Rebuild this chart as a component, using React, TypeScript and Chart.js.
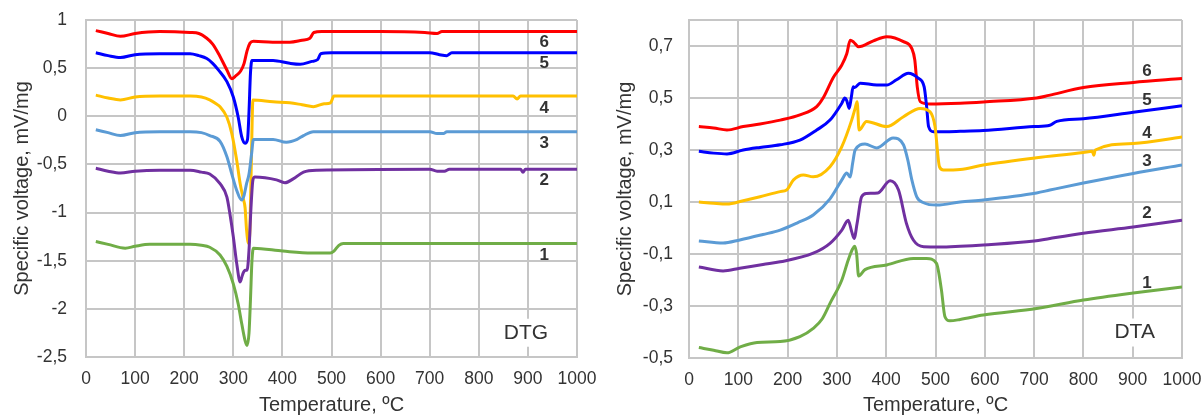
import React, { useEffect, useRef } from 'react';
import { Chart, registerables } from 'chart.js';
Chart.register(...registerables);

type Pt = [number, number];

// ---------- DTG series (temperature °C, mV/mg) ----------
const dtg1: Pt[] = [[20,-1.30],[45,-1.33],[80,-1.37],[100,-1.35],[130,-1.33],[212,-1.33],[235,-1.34],[252,-1.36],[273,-1.44],[287,-1.56],[300,-1.74],[310,-1.95],[317,-2.15],[324,-2.33],[328,-2.38],[332,-2.25],[335,-1.9],[338,-1.5],[341,-1.37],[401,-1.40],[460,-1.42],[497,-1.42],[505,-1.40],[515,-1.34],[524,-1.32],[1000,-1.32]];
const dtg2: Pt[] = [[20,-0.54],[45,-0.57],[70,-0.59],[100,-0.57],[150,-0.56],[212,-0.56],[235,-0.58],[252,-0.60],[273,-0.70],[287,-0.84],[293,-1.01],[300,-1.25],[307,-1.53],[314,-1.72],[318,-1.66],[320,-1.63],[324,-1.60],[328,-1.60],[332,-1.39],[336,-0.95],[340,-0.66],[344,-0.63],[388,-0.66],[405,-0.69],[422,-0.65],[443,-0.58],[470,-0.56],[700,-0.55],[715,-0.57],[730,-0.57],[740,-0.55],[885,-0.55],[890,-0.58],[895,-0.55],[1000,-0.55]];
const dtg3: Pt[] = [[20,-0.14],[45,-0.17],[70,-0.20],[100,-0.17],[150,-0.16],[212,-0.16],[235,-0.17],[252,-0.20],[273,-0.26],[287,-0.42],[297,-0.60],[307,-0.77],[317,-0.87],[322,-0.82],[327,-0.70],[332,-0.60],[337,-0.40],[341,-0.24],[381,-0.24],[408,-0.27],[430,-0.24],[443,-0.20],[463,-0.16],[700,-0.16],[715,-0.18],[728,-0.18],[735,-0.16],[1000,-0.16]];
const dtg4: Pt[] = [[20,0.22],[45,0.19],[70,0.17],[100,0.20],[150,0.21],[212,0.21],[235,0.20],[252,0.17],[265,0.13],[273,0.10],[287,-0.01],[297,-0.18],[307,-0.46],[314,-0.70],[320,-0.85],[324,-0.95],[327,-1.18],[331,-1.32],[334,-1.15],[337,-0.4],[340,0.17],[381,0.15],[415,0.14],[440,0.12],[463,0.10],[485,0.13],[498,0.14],[505,0.21],[520,0.21],[870,0.21],[878,0.18],[885,0.21],[1000,0.21]];
const dtg5: Pt[] = [[20,0.66],[45,0.63],[70,0.61],[100,0.64],[150,0.65],[212,0.65],[230,0.63],[246,0.60],[258,0.55],[270,0.48],[287,0.36],[300,0.20],[310,-0.01],[317,-0.21],[324,-0.28],[329,-0.24],[332,0.05],[335,0.45],[338,0.58],[381,0.58],[415,0.55],[436,0.54],[460,0.57],[472,0.59],[478,0.65],[500,0.66],[700,0.66],[720,0.64],[735,0.63],[745,0.66],[1000,0.66]];
const dtg6: Pt[] = [[20,0.89],[45,0.86],[70,0.83],[100,0.86],[150,0.88],[212,0.87],[230,0.86],[246,0.81],[258,0.75],[270,0.65],[287,0.48],[297,0.39],[305,0.42],[315,0.47],[322,0.55],[328,0.68],[334,0.76],[341,0.78],[380,0.77],[415,0.77],[440,0.79],[456,0.81],[464,0.87],[480,0.88],[600,0.88],[690,0.87],[715,0.86],[725,0.88],[1000,0.88]];

// ---------- DTA series ----------
const dta1: Pt[] = [[20,-0.46],[50,-0.47],[77,-0.48],[103,-0.458],[138,-0.44],[185,-0.437],[225,-0.418],[252,-0.386],[270,-0.35],[286,-0.29],[310,-0.20],[323,-0.123],[332,-0.08],[336,-0.07],[340,-0.10],[344,-0.185],[357,-0.16],[401,-0.142],[455,-0.117],[482,-0.117],[502,-0.136],[512,-0.238],[519,-0.34],[529,-0.357],[550,-0.352],[597,-0.335],[705,-0.31],[800,-0.277],[901,-0.25],[1000,-0.227]];
const dta2: Pt[] = [[20,-0.15],[69,-0.165],[103,-0.155],[150,-0.14],[185,-0.13],[252,-0.097],[286,-0.059],[310,-0.008],[323,0.03],[330,-0.014],[335,-0.04],[341,0.018],[350,0.12],[360,0.133],[383,0.135],[408,0.182],[425,0.146],[441,0.018],[455,-0.046],[476,-0.072],[509,-0.073],[550,-0.07],[597,-0.065],[700,-0.05],[732,-0.04],[800,-0.02],[901,0.004],[1000,0.03]];
const dta3: Pt[] = [[20,-0.05],[69,-0.058],[103,-0.046],[150,-0.025],[185,-0.008],[220,0.02],[252,0.05],[286,0.112],[310,0.185],[320,0.212],[327,0.196],[332,0.25],[337,0.30],[357,0.323],[381,0.308],[414,0.346],[435,0.32],[444,0.26],[452,0.185],[462,0.12],[476,0.097],[503,0.088],[550,0.10],[597,0.108],[705,0.135],[732,0.146],[800,0.173],[901,0.21],[1000,0.242]];
const dta4: Pt[] = [[20,0.10],[50,0.095],[77,0.092],[110,0.105],[144,0.12],[185,0.14],[198,0.146],[212,0.185],[232,0.204],[252,0.197],[286,0.236],[310,0.313],[330,0.415],[337,0.46],[341,0.486],[345,0.377],[360,0.41],[401,0.39],[435,0.428],[469,0.46],[489,0.447],[499,0.39],[508,0.236],[516,0.223],[550,0.225],[597,0.242],[705,0.27],[800,0.29],[818,0.295],[821,0.28],[824,0.30],[901,0.325],[1000,0.35]];
const dta5: Pt[] = [[20,0.295],[50,0.288],[77,0.285],[110,0.30],[144,0.31],[185,0.32],[225,0.338],[259,0.377],[286,0.415],[310,0.48],[316,0.50],[320,0.49],[325,0.46],[329,0.50],[333,0.543],[336,0.54],[347,0.557],[381,0.55],[401,0.55],[421,0.57],[445,0.595],[465,0.576],[477,0.543],[482,0.467],[486,0.39],[496,0.37],[550,0.372],[597,0.375],[700,0.39],[732,0.395],[746,0.41],[800,0.42],[901,0.445],[1000,0.47]];
const dta6: Pt[] = [[20,0.39],[50,0.385],[77,0.377],[110,0.39],[144,0.40],[185,0.415],[225,0.435],[259,0.467],[272,0.50],[293,0.58],[310,0.627],[320,0.67],[327,0.722],[334,0.715],[344,0.697],[374,0.72],[401,0.736],[435,0.717],[452,0.69],[458,0.646],[463,0.543],[469,0.486],[489,0.477],[550,0.48],[597,0.485],[705,0.50],[730,0.51],[800,0.54],[901,0.56],[1000,0.575]];

const seriesNames = ['1', '2', '3', '4', '5', '6'];
const seriesColors = ['#70AD47', '#7030A0', '#5B9BD5', '#FFC000', '#0000FF', '#FF0000'];
const xTicks = [0, 100, 200, 300, 400, 500, 600, 700, 800, 900, 1000];
const dtgYTicks = [-2.5, -2, -1.5, -1, -0.5, 0, 0.5, 1];
const dtaYTicks = [-0.5, -0.3, -0.1, 0.1, 0.3, 0.5, 0.7, 0.8];
const dtaUnlabeled = [0.8];
const dtgLabelPos: Pt[] = [[933, -1.443], [933, -0.665], [933, -0.28], [933, 0.083], [933, 0.546], [933, 0.77]];
const dtaLabelPos: Pt[] = [[929, -0.213], [929, 0.056], [929, 0.255], [929, 0.364], [929, 0.492], [929, 0.601]];
const dtgTag: Pt = [896, -2.248];
const dtaTag: Pt = [904, -0.402];

const FONT = "'Liberation Sans', Arial, sans-serif";
const GRID = '#c6c6c6';
const TEXT = '#333333';

const fmt = (v: number) => String(Math.round(v * 10) / 10).replace('.', ',');

interface PanelProps {
  series: Pt[][];
  yTicks: number[];
  hidden: number[];
  labelPos: Pt[];
  tag: string;
  tagPos: Pt;
  yWidth: number;
  yPad: number;
  yTitlePad: number;
  padRight: number;
  xHeight: number;
}

function Panel(p: PanelProps) {
  const ref = useRef<HTMLCanvasElement>(null);
  useEffect(() => {
    const canvas = ref.current!;
    const labelPlugin = {
      id: 'seriesLabels',
      afterDatasetsDraw(chart: any) {
        const ctx = chart.ctx;
        const xs = chart.scales.x;
        const ys = chart.scales.y;
        ctx.save();
        ctx.textAlign = 'center';
        ctx.textBaseline = 'middle';
        ctx.font = `bold 17px ${FONT}`;
        ctx.fillStyle = TEXT;
        p.labelPos.forEach((pt, i) => {
          ctx.fillText(seriesNames[i], xs.getPixelForValue(pt[0]), ys.getPixelForValue(pt[1]));
        });
        ctx.font = `21px ${FONT}`;
        const tx = xs.getPixelForValue(p.tagPos[0]);
        const ty = ys.getPixelForValue(p.tagPos[1]);
        const w = ctx.measureText(p.tag).width;
        ctx.fillStyle = '#ffffff';
        ctx.fillRect(tx - w / 2 - 5, ty - 14, w + 10, 28);
        ctx.fillStyle = TEXT;
        ctx.fillText(p.tag, tx, ty);
        ctx.restore();
      },
    };
    const chart = new Chart(canvas, {
      type: 'line',
      data: {
        datasets: p.series.map((s, i) => ({
          label: seriesNames[i],
          data: s.map(([x, y]) => ({ x, y })),
          borderColor: seriesColors[i],
          backgroundColor: seriesColors[i],
          borderWidth: 3,
          pointRadius: 0,
          cubicInterpolationMode: 'monotone' as const,
          fill: false,
        })),
      },
      options: {
        animation: false,
        responsive: false,
        maintainAspectRatio: false,
        layout: { padding: { left: 0, right: p.padRight, top: 20, bottom: 1 } },
        plugins: { legend: { display: false }, tooltip: { enabled: false } },
        scales: {
          x: {
            type: 'linear',
            min: 0,
            max: 1000,
            afterBuildTicks: (s: any) => { s.ticks = xTicks.map((v) => ({ value: v })); },
            afterFit: (s: any) => { s.height = p.xHeight; s.paddingLeft = 0; s.paddingRight = 0; },
            grid: { color: GRID, lineWidth: 2, drawTicks: false },
            border: { color: GRID, width: 2 },
            ticks: { padding: 12, color: TEXT, font: { family: FONT, size: 17.5 }, maxRotation: 0, callback: (v: any) => String(v) },
            title: { display: true, text: 'Temperature, ºC', color: TEXT, font: { family: FONT, size: 20 }, padding: { top: 0, bottom: 0 } },
          },
          y: {
            type: 'linear',
            min: p.yTicks[0],
            max: p.yTicks[p.yTicks.length - 1],
            afterBuildTicks: (s: any) => { s.ticks = p.yTicks.map((v) => ({ value: v })); },
            afterFit: (s: any) => { s.width = p.yWidth; s.paddingTop = 0; s.paddingBottom = 0; },
            grid: { color: GRID, lineWidth: 2, drawTicks: false },
            border: { color: GRID, width: 2 },
            ticks: {
              padding: p.yPad,
              color: TEXT,
              font: { family: FONT, size: 17.5 },
              callback: (v: any) => (p.hidden.some((h) => Math.abs(h - v) < 1e-6) ? '' : fmt(Number(v))),
            },
            title: { display: true, text: 'Specific voltage, mV/mg', color: TEXT, font: { family: FONT, size: 20 }, padding: { top: p.yTitlePad, bottom: 0 } },
          },
        },
      },
      plugins: [labelPlugin],
    } as any);
    return () => chart.destroy();
  }, []);
  return <canvas ref={ref} width={602} height={418} style={{ display: 'block', width: 602, height: 418 }} />;
}

export default function App() {
  useEffect(() => {
    document.body.style.margin = '0';
    document.body.style.background = '#ffffff';
  }, []);
  return (
    <div style={{ display: 'flex', width: 1204, height: 418, background: '#fff' }}>
      <Panel series={[dtg1, dtg2, dtg3, dtg4, dtg5, dtg6]} yTicks={dtgYTicks} hidden={[]} labelPos={dtgLabelPos} tag="DTG" tagPos={dtgTag} yWidth={86} yPad={19} yTitlePad={10} padRight={25} xHeight={60} />
      <Panel series={[dta1, dta2, dta3, dta4, dta5, dta6]} yTicks={dtaYTicks} hidden={dtaUnlabeled} labelPos={dtaLabelPos} tag="DTA" tagPos={dtaTag} yWidth={87} yPad={16} yTitlePad={11} padRight={22} xHeight={59} />
    </div>
  );
}
